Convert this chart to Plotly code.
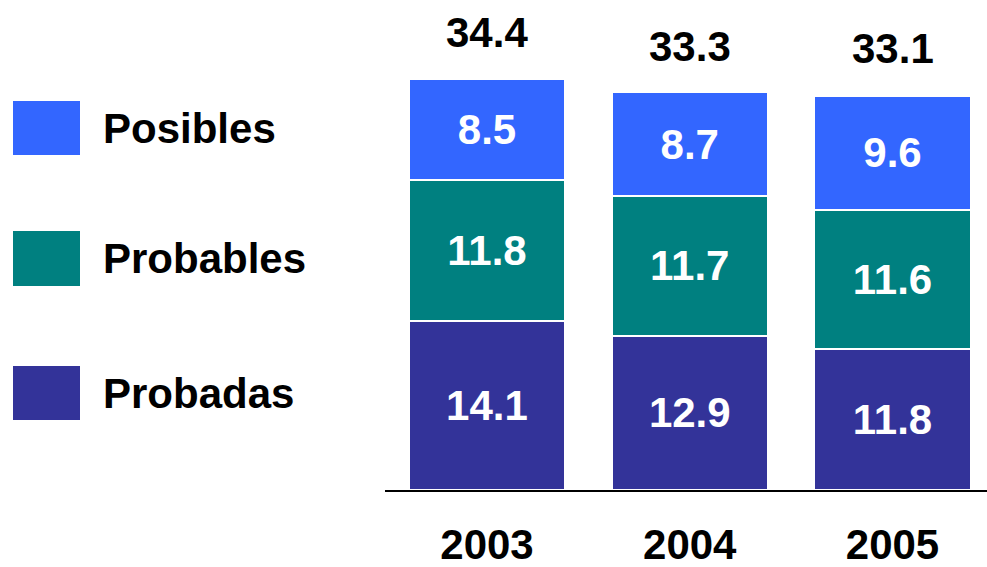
import plotly.graph_objects as go

years = ['2003', '2004', '2005']
probadas = [14.1, 12.9, 11.8]
probables = [11.8, 11.7, 11.6]
posibles = [8.5, 8.7, 9.6]
totals = [34.4, 33.3, 33.1]

series = [('Probadas', probadas, '#333399'),
          ('Probables', probables, '#008080'),
          ('Posibles', posibles, '#3366FF')]

W, H = 987, 567
L, B = 385, 77
font = 'Liberation Sans, Arial, sans-serif'
FS = 42


def px(x, y):
    """Pixel position -> paper coordinates of the plot area."""
    return (x - L) / (W - L), (H - B - y) / (H - B)


fig = go.Figure()
for name, vals, color in series:
    fig.add_trace(go.Bar(
        x=years, y=vals, name=name, marker_color=color,
        marker_line=dict(color='white', width=2),
        text=[f'{v:.1f}' for v in vals], textposition='inside',
        insidetextanchor='middle',
        textfont=dict(family=font, size=FS, color='white', weight='bold'),
        width=0.77, showlegend=False))

for i, t in enumerate(totals):
    fig.add_annotation(x=i, y=t, text=f'{t:.1f}', showarrow=False, yshift=46,
                       font=dict(family=font, size=FS, color='black', weight='bold'))

# legend drawn by hand on the left
legend_rows = [('Posibles', '#3366FF', 101, 155),
               ('Probables', '#008080', 231, 286),
               ('Probadas', '#333399', 366, 420)]
for name, color, top, bot in legend_rows:
    x0, y0 = px(13, bot)
    x1, y1 = px(80, top)
    fig.add_shape(type='rect', xref='paper', yref='paper', x0=x0, y0=y0, x1=x1, y1=y1,
                  fillcolor=color, line_width=0)
    tx, ty = px(101, (top + bot) / 2)
    fig.add_annotation(xref='paper', yref='paper', x=tx, y=ty, text=name, showarrow=False,
                       xanchor='left', yanchor='middle',
                       font=dict(family=font, size=FS, color='black', weight='bold'))

fig.update_layout(
    barmode='stack', width=W, height=H,
    margin=dict(l=L, r=0, t=0, b=B),
    plot_bgcolor='white', paper_bgcolor='white',
    xaxis=dict(type='category', range=[-0.503, 2.466], showline=True, linecolor='black',
               linewidth=2, ticks='', ticklabelstandoff=17, automargin=False,
               tickfont=dict(family=font, size=FS, color='black', weight='bold')),
    yaxis=dict(range=[0, 41], visible=False, automargin=False),
)

fig.write_html('out.html', config={'displayModeBar': False},
               post_script="document.body.style.margin='0';")
